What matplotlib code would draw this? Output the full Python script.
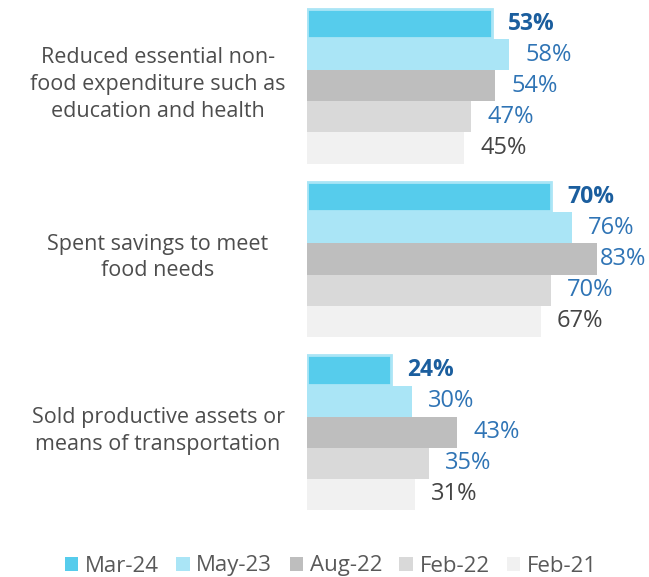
import matplotlib
matplotlib.use("Agg")
import matplotlib.pyplot as plt
from matplotlib.patches import Patch

plt.rcParams['font.family'] = ['Open Sans', 'DejaVu Sans']

categories = ["Reduced essential non-\nfood expenditure such as\neducation and health",
              "Spent savings to meet\nfood needs",
              "Sold productive assets or\nmeans of transportation"]
series = ["Mar-24", "May-23", "Aug-22", "Feb-22", "Feb-21"]
values = {
    "Mar-24": [53, 70, 24],
    "May-23": [58, 76, 30],
    "Aug-22": [54, 83, 43],
    "Feb-22": [47, 70, 35],
    "Feb-21": [45, 67, 31],
}
fill_colors = ["#56CCEC", "#AAE5F6", "#BEBEBE", "#D9D9D9", "#F1F1F1"]
label_colors = ["#1B5E9E", "#2F74B5", "#2F74B5", "#2F74B5", "#444444"]

W, H = 649, 577
fig = plt.figure(figsize=(W / 100, H / 100), dpi=100)
left_px, right_px = 307, 649
top_px, bot_px = 8, 510
ax = fig.add_axes([left_px / W, 1 - bot_px / H, (right_px - left_px) / W, (bot_px - top_px) / H])

pitch = 5.565
for gi, cat in enumerate(categories):
    base = gi * pitch
    for si, s in enumerate(series):
        v = values[s][gi]
        y = base + si + 0.5
        if si == 0:
            ax.barh(y, v, height=0.94, color=fill_colors[si], edgecolor="#AAE5F6", linewidth=2)
        else:
            ax.barh(y, v, height=1.0, color=fill_colors[si], edgecolor="none")
        off = 2.0 if v >= 80 else 11.5
        ax.annotate(f"{v}%", xy=(v, y), xytext=(off, 0), textcoords="offset points",
                    ha="left", va="center", fontsize=17 if si else 16.5,
                    color=label_colors[si], fontweight="bold" if si == 0 else "normal")
    ax.text(-149 / 3.49, base + 2.45, cat, ha="center", va="center", fontsize=15.5,
            color="#4D4D4D", linespacing=1.36, multialignment="center", clip_on=False)

ax.set_xlim(0, (right_px - left_px) / 3.49)
ax.set_ylim(2 * pitch + 5, 0)
ax.axis("off")

handles = [Patch(facecolor=c, edgecolor="none") for c in fill_colors]
fig.legend(handles, series, loc="center", bbox_to_anchor=(331 / W, 1 - 566 / H), ncol=5,
           frameon=False, fontsize=16, handlelength=0.6, handleheight=0.6,
           handletextpad=0.3, columnspacing=0.78, labelcolor="#595959",
           borderpad=0.1)

fig.savefig("out.png", dpi=100)
